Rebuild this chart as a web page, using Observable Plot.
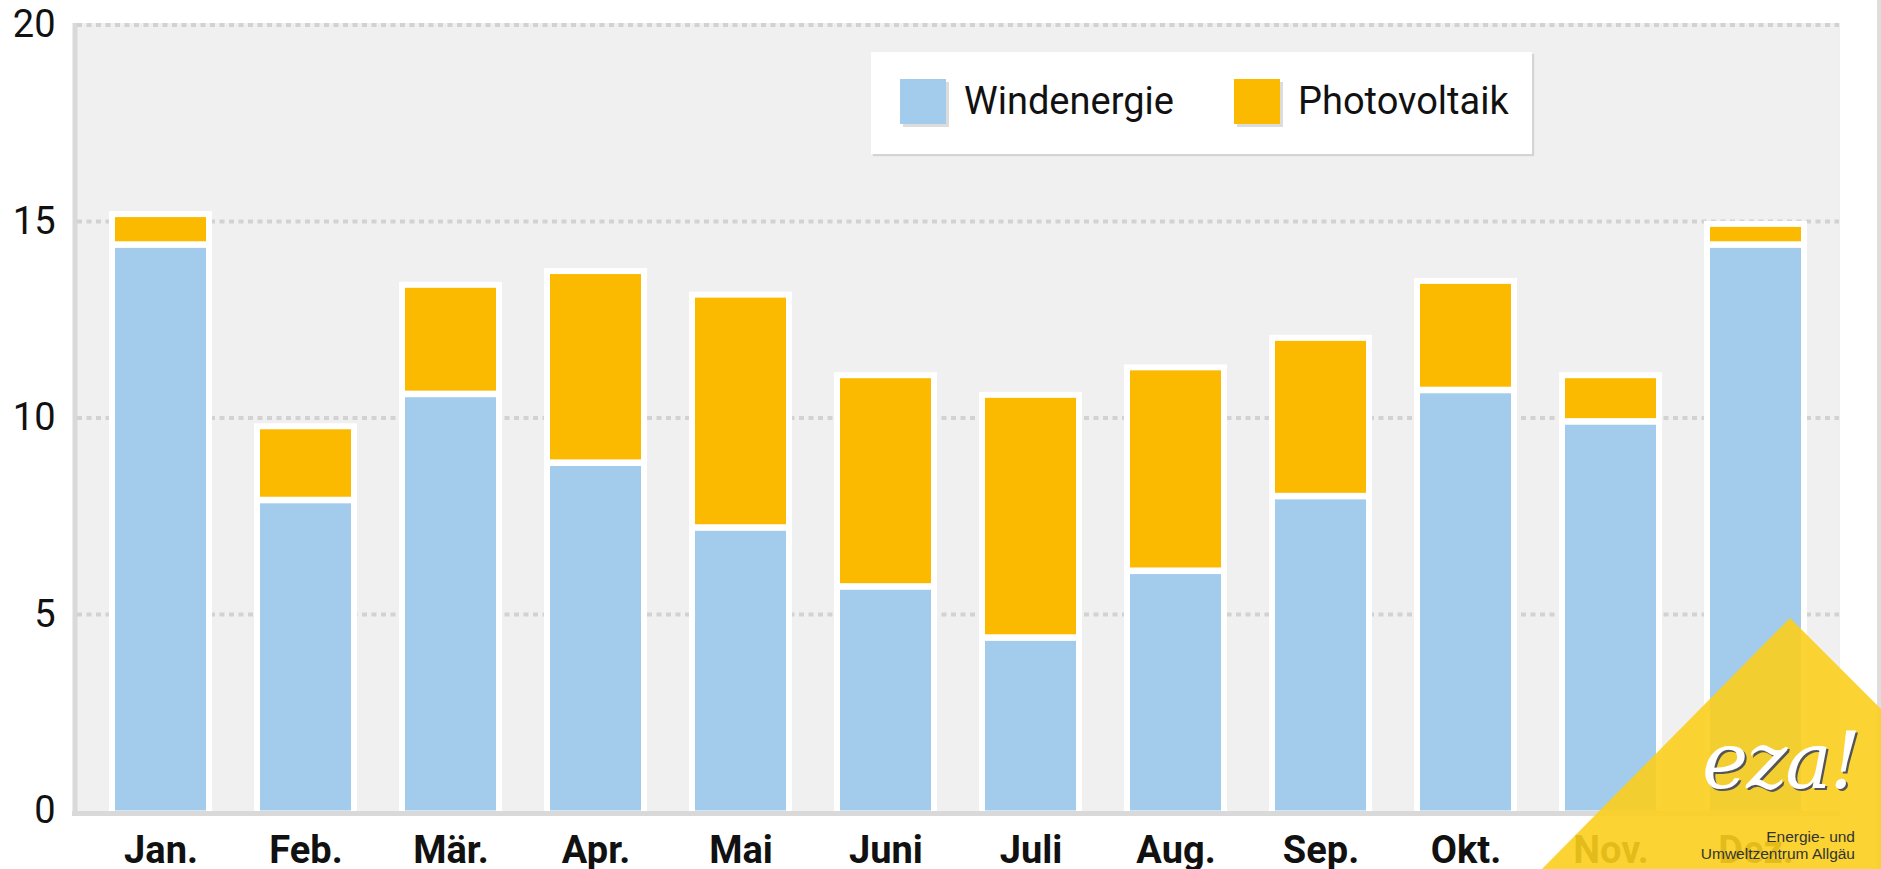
<!DOCTYPE html>
<html><head><meta charset="utf-8">
<script src="https://cdn.jsdelivr.net/npm/d3@7"></script>
<script src="https://cdn.jsdelivr.net/npm/@observablehq/plot@0.6"></script>
<style>
body{margin:0;background:#fff;font-family:Roboto,"Noto Sans",sans-serif;}
#wrap{position:relative;width:1881px;height:869px;overflow:hidden;}
#legend{position:absolute;left:871px;top:52px;width:661px;height:102px;background:#fff;box-shadow:2px 2px 1px #d4d4d4;}
.item{position:absolute;top:27px;display:flex;align-items:center;height:45px;}
.sw{width:46px;height:45px;box-shadow:3px 3px 0 #dcdcdc;margin-right:18px;}
.lt{font-size:38px;color:#111;line-height:45px;}
#tri{position:absolute;left:0;top:0;width:1881px;height:869px;background:rgba(251,206,28,0.9);
 clip-path:polygon(1542px 869px,1790px 618px,2041px 869px);}
#eza{position:absolute;left:1702px;top:722px;font-family:"DejaVu Serif",serif;font-style:italic;font-size:78px;color:#fff;
 text-shadow:2px 2px 0 #555;letter-spacing:-2px;line-height:1;}
.org{position:absolute;right:26px;font-family:"Liberation Sans",Arial,sans-serif;font-size:15.5px;color:#333;line-height:1;}
#edge{position:absolute;left:1877px;top:0;width:4px;height:869px;background:#dedede;}
</style></head><body><div id="wrap"></div>
<script>
const months = ["Jan.","Feb.","Mär.","Apr.","Mai","Juni","Juli","Aug.","Sep.","Okt.","Nov.","Dez."];
const windenergie = [14.4, 7.9, 10.6, 8.85, 7.2, 5.7, 4.4, 6.1, 8.0, 10.7, 9.9, 14.4];
const photovoltaik = [0.7, 1.8, 2.7, 4.8, 5.85, 5.3, 6.1, 5.1, 3.95, 2.7, 1.1, 0.45];
const seriesNames = ["Windenergie", "Photovoltaik"];
const seriesColors = ["#a2cbec", "#fbb900"];
const yTicks = [0, 5, 10, 15, 20];
const gridTicks = [5, 10, 15, 20];

const data = months.map((m, i) => ({month: m, wind: windenergie[i], total: windenergie[i] + photovoltaik[i]}));

const chart = Plot.plot({
  width: 1881, height: 869,
  marginLeft: 77, marginRight: 42, marginTop: 24.5, marginBottom: 58.5,
  style: {background: "transparent", fontFamily: "Roboto", color: "#111", overflow: "visible"},
  x: {domain: months, paddingInner: 0.372, paddingOuter: 0.261, label: null},
  y: {domain: [0, 20], label: null},
  marks: [
    Plot.frame({fill: "#d9d9d9", insetLeft: -5, insetTop: -2, insetBottom: -4.5}),
    Plot.frame({fill: "#f0f0f0", insetTop: -2}),
    Plot.ruleY(gridTicks, {stroke: "#d2d2d2", strokeWidth: 4, strokeDasharray: "5,4.5"}),
    Plot.barY(data, {x: "month", y1: 0, y2: "total", fill: "white", stroke: "white", strokeWidth: 12}),
    Plot.barY(data, {x: "month", y1: 0, y2: "wind", fill: seriesColors[0], insetTop: 3.3}),
    Plot.barY(data, {x: "month", y1: "wind", y2: "total", fill: seriesColors[1], insetBottom: 3.3}),
    Plot.ruleY([0], {stroke: "#d9d9d9", strokeWidth: 5, dy: 2.5, insetLeft: -5}),
    Plot.axisX({tickSize: 0, tickPadding: 25, fontSize: 38, fontWeight: "bold", label: null}),
    Plot.axisY({ticks: yTicks, tickSize: 0, tickPadding: 22, fontSize: 38, label: null})
  ]
});
const wrap = document.getElementById("wrap");
wrap.appendChild(chart);

const legend = document.createElement("div");
legend.id = "legend";
const lx = [29, 363];
seriesNames.forEach((n, i) => {
  const it = document.createElement("div");
  it.className = "item";
  it.style.left = lx[i] + "px";
  const sw = document.createElement("div");
  sw.className = "sw"; sw.style.background = seriesColors[i];
  const t = document.createElement("span");
  t.className = "lt"; t.textContent = n;
  it.appendChild(sw); it.appendChild(t);
  legend.appendChild(it);
});
wrap.appendChild(legend);

const edge = document.createElement("div"); edge.id = "edge"; wrap.appendChild(edge);
const tri = document.createElement("div"); tri.id = "tri"; wrap.appendChild(tri);
const eza = document.createElement("div"); eza.id = "eza"; eza.textContent = "eza!"; wrap.appendChild(eza);
const o1 = document.createElement("div"); o1.className = "org"; o1.style.top = "829px"; o1.textContent = "Energie- und"; wrap.appendChild(o1);
const o2 = document.createElement("div"); o2.className = "org"; o2.style.top = "846px"; o2.textContent = "Umweltzentrum Allgäu"; wrap.appendChild(o2);
</script></body></html>
